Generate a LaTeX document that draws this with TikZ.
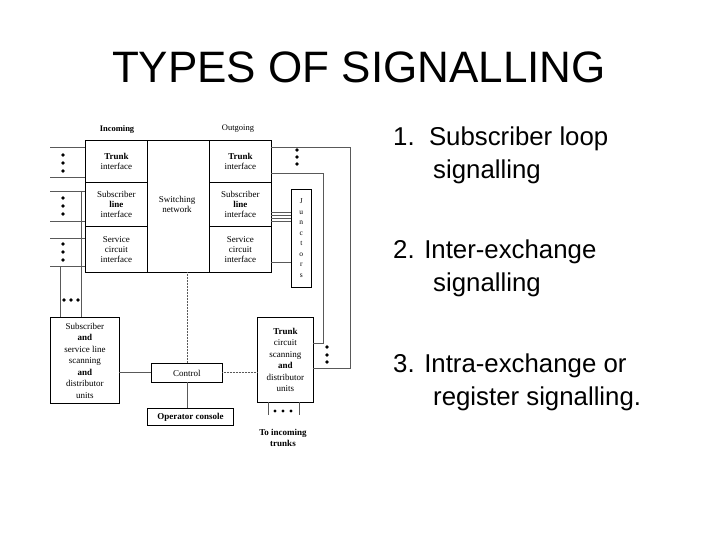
\documentclass[tikz,border=0pt]{standalone}
\usepackage{fontspec}
\setmainfont{Liberation Sans}
\newfontfamily\dg{Liberation Serif}
\begin{document}
\begin{tikzpicture}[x=1pt,y=-1pt,
  bx/.style={draw,line width=0.9pt,inner sep=0pt,font=\dg\fontsize{9}{10}\selectfont,align=center},
  ln/.style={line width=0.5pt,gray!70!black},
  dt/.style={fill,circle,inner sep=1.3pt},
  lbl/.style={font=\dg\fontsize{9}{10}\selectfont,align=center,inner sep=0pt},
  item/.style={font=\fontsize{25.8}{33}\selectfont,anchor=north west,align=left,inner sep=0pt}]
\useasboundingbox (0,0) rectangle (720,540);
\node[font=\fontsize{44}{48}\selectfont] (title) at (359,67) {TYPES OF SIGNALLING};
% items
\node[item] (i1) at (393,127) {1.\ \ Subscriber loop\\\hspace{40pt}signalling};
\node[item] (i2) at (393,240) {2. Inter-exchange\\\hspace{40pt}signalling};
\node[item] (i3) at (393,354) {3. Intra-exchange or\\\hspace{40pt}register signalling.};
% headings
\node[lbl,font=\dg\bfseries\fontsize{8.5}{10}\selectfont] (inc) at (117,129) {Incoming};
\node[lbl,font=\dg\fontsize{8.5}{10}\selectfont] (out) at (238,129) {Outgoing};
% main frame
\node[bx,minimum width=62pt,minimum height=42pt,anchor=north west] (ti) at (85,140) {\textbf{Trunk}\\interface};
\node[bx,minimum width=62pt,minimum height=44pt,anchor=north west] (sli) at (85,182) {Subscriber\\\textbf{line}\\interface};
\node[bx,minimum width=62pt,minimum height=46pt,anchor=north west] (sci) at (85,226) {Service\\circuit\\interface};
\node[bx,minimum width=62pt,minimum height=132pt,anchor=north west] (sw) at (147,140) {};
\node[lbl] at (177,204) {Switching\\network};
\node[bx,minimum width=62pt,minimum height=42pt,anchor=north west] (to) at (209,140) {\textbf{Trunk}\\interface};
\node[bx,minimum width=62pt,minimum height=44pt,anchor=north west] (slo) at (209,182) {Subscriber\\\textbf{line}\\interface};
\node[bx,minimum width=62pt,minimum height=46pt,anchor=north west] (sco) at (209,226) {Service\\circuit\\interface};
\node[bx,line width=0.6pt,minimum width=20pt,minimum height=98pt,anchor=north west,font=\dg\fontsize{7.5}{10.5}\selectfont] (jn) at (291,189) {J\\u\\n\\c\\t\\o\\r\\s};
% lower boxes
\node[bx,minimum width=69pt,minimum height=86pt,anchor=north west,font=\dg\fontsize{9}{11.5}\selectfont] (sub) at (50,317) {Subscriber\\\textbf{and}\\service line\\scanning\\\textbf{and}\\distributor\\units};
\node[bx,minimum width=71pt,minimum height=19pt,anchor=north west] (ctl) at (151,363) {Control};
\node[bx,minimum width=86pt,minimum height=17pt,anchor=north west] (op) at (147,408) {\textbf{Operator console}};
\node[bx,minimum width=56pt,minimum height=85pt,anchor=north west,font=\dg\fontsize{9}{11.5}\selectfont] (tc) at (257,317) {\textbf{Trunk}\\circuit\\scanning\\\textbf{and}\\distributor\\units};
\node[lbl,font=\dg\bfseries\fontsize{9}{11}\selectfont] (toinc) at (283,438) {To incoming\\trunks};
% left lines
\foreach \y in {147,177,191,221,238,266} \draw[ln] (50,\y) -- (85,\y);
\foreach \y in {155,163,171} \node[dt] at (63,\y) {};
\foreach \y in {198,206,214} \node[dt] at (63,\y) {};
\foreach \y in {244,252,260} \node[dt] at (63,\y) {};
\draw[ln] (60,266) -- (60,317);
\draw[ln] (81,191) -- (81,317);
\foreach \x in {64,71,78} \node[dt] at (\x,300) {};
% right lines
\draw[ln] (271,147) -- (350,147) -- (350,368) -- (313,368);
\draw[ln] (271,173) -- (323,173) -- (323,343) -- (313,343);
\foreach \y in {347,355,362} \node[dt] at (327,\y) {};
\foreach \y in {150,157,164} \node[dt] at (297,\y) {};
\foreach \y in {212,215,218,221,262} \draw[ln] (271,\y) -- (291,\y);
% control connections
\draw[ln,densely dotted] (187,272) -- (187,363);
\draw[ln] (119,372) -- (151,372);
\draw[ln,densely dotted] (222,372) -- (257,372);
\draw[ln] (187,382) -- (187,408);
\draw[ln] (268,402) -- (268,415);
\draw[ln] (299,402) -- (299,415);
\foreach \x in {275,283,291} \node[dt,inner sep=1.1pt] at (\x,411) {};
\end{tikzpicture}
\end{document}
